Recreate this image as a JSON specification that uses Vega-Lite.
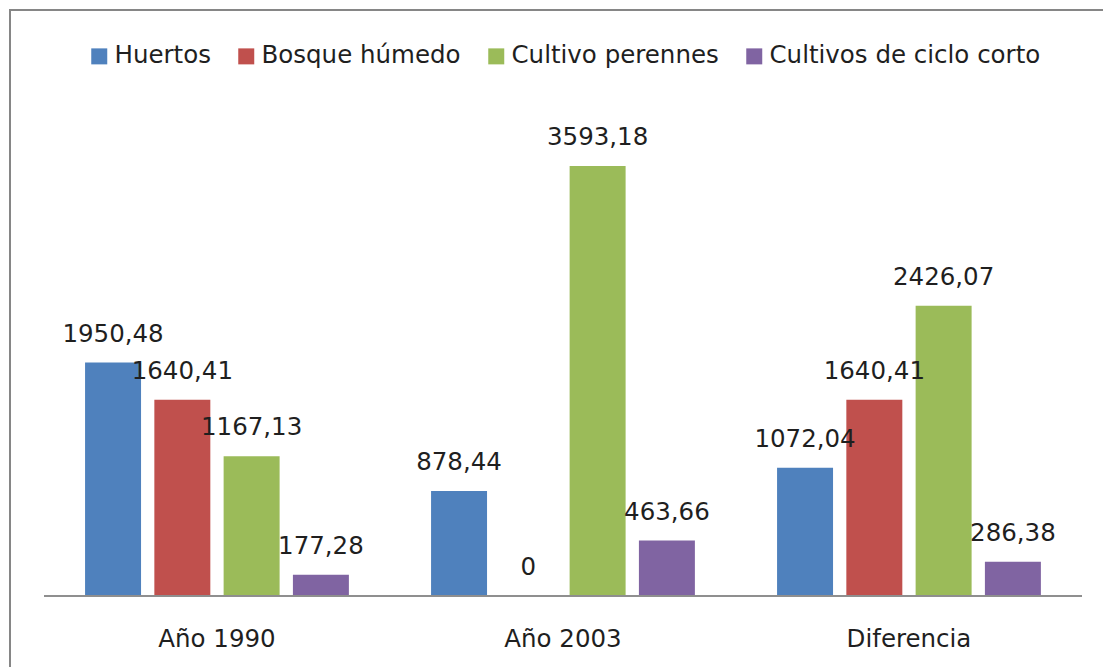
{
  "$schema": "https://vega.github.io/schema/vega-lite/v6.json",
  "width": 1100,
  "height": 680,
  "autosize": {"type": "none"},
  "padding": {"left": 10, "top": 10, "right": -7, "bottom": -23},
  "background": "white",
  "config": {
    "locale": {"number": {"decimal": ",", "thousands": ".", "grouping": [3], "currency": ["", ""]}},
    "view": {"stroke": "#868686", "strokeWidth": 2},
    "font": "DejaVu Sans"
  },
  "data": {
    "values": [
      {"periodo": "Año 1990", "cobertura": "Huertos", "valor": 1950.48},
      {"periodo": "Año 1990", "cobertura": "Bosque húmedo", "valor": 1640.41},
      {"periodo": "Año 1990", "cobertura": "Cultivo perennes", "valor": 1167.13},
      {"periodo": "Año 1990", "cobertura": "Cultivos  de ciclo corto", "valor": 177.28},
      {"periodo": "Año 2003", "cobertura": "Huertos", "valor": 878.44},
      {"periodo": "Año 2003", "cobertura": "Bosque húmedo", "valor": 0},
      {"periodo": "Año 2003", "cobertura": "Cultivo perennes", "valor": 3593.18},
      {"periodo": "Año 2003", "cobertura": "Cultivos  de ciclo corto", "valor": 463.66},
      {"periodo": "Diferencia", "cobertura": "Huertos", "valor": 1072.04},
      {"periodo": "Diferencia", "cobertura": "Bosque húmedo", "valor": 1640.41},
      {"periodo": "Diferencia", "cobertura": "Cultivo perennes", "valor": 2426.07},
      {"periodo": "Diferencia", "cobertura": "Cultivos  de ciclo corto", "valor": 286.38}
    ]
  },
  "layer": [
    {
      "mark": {"type": "bar"},
      "encoding": {
        "x": {
          "field": "periodo",
          "type": "nominal",
          "sort": ["Año 1990", "Año 2003", "Diferencia"],
          "scale": {"paddingInner": 0, "paddingOuter": 0.0896, "align": 0.548},
          "axis": {
            "title": null,
            "domain": false,
            "ticks": false,
            "tickSize": 0,
            "grid": false,
            "labelAngle": 0,
            "labelPadding": 50,
            "labelBaseline": "alphabetic",
            "labelFontSize": 24.5,
            "labelFont": "DejaVu Sans",
            "labelColor": "#1f1f1f",
            "offset": -94
          }
        },
        "xOffset": {
          "field": "cobertura",
          "type": "nominal",
          "sort": ["Huertos", "Bosque húmedo", "Cultivo perennes", "Cultivos  de ciclo corto"],
          "scale": {"paddingInner": 0.192, "paddingOuter": 0.593}
        },
        "y": {
          "field": "valor",
          "type": "quantitative",
          "scale": {"domain": [-785.5, 4896.8], "nice": false},
          "axis": null
        },
        "y2": {"datum": 0},
        "color": {
          "field": "cobertura",
          "type": "nominal",
          "sort": ["Huertos", "Bosque húmedo", "Cultivo perennes", "Cultivos  de ciclo corto"],
          "scale": {
            "domain": ["Huertos", "Bosque húmedo", "Cultivo perennes", "Cultivos  de ciclo corto"],
            "range": ["#4F81BD", "#C0504D", "#9BBB59", "#8064A2"]
          },
          "legend": {
            "title": null,
            "orient": "none",
            "legendX": 77,
            "legendY": 34,
            "direction": "horizontal",
            "columns": 4,
            "symbolType": "square",
            "symbolSize": 256,
            "symbolStrokeWidth": 0,
            "symbolOpacity": 1,
            "labelFontSize": 24.5,
            "labelFont": "DejaVu Sans",
            "labelColor": "#1f1f1f",
            "labelOffset": 3,
            "labelLimit": 500,
            "columnPadding": 23,
            "padding": 0
          }
        }
      }
    },
    {
      "mark": {"type": "bar", "fillOpacity": 0, "stroke": "#8E8E8E", "strokeWidth": 1.5},
      "encoding": {
        "x": {"field": "periodo", "type": "nominal", "sort": ["Año 1990", "Año 2003", "Diferencia"]},
        "y": {"datum": 0, "scale": {"domain": [-785.5, 4896.8], "nice": false}},
        "y2": {"datum": 0}
      }
    },
    {
      "mark": {"type": "text", "baseline": "alphabetic", "dy": -21, "fontSize": 24.5, "font": "DejaVu Sans", "color": "#1f1f1f"},
      "encoding": {
        "x": {"field": "periodo", "type": "nominal", "sort": ["Año 1990", "Año 2003", "Diferencia"]},
        "xOffset": {"field": "cobertura", "type": "nominal", "sort": ["Huertos", "Bosque húmedo", "Cultivo perennes", "Cultivos  de ciclo corto"]},
        "y": {"field": "valor", "type": "quantitative"},
        "text": {"field": "valor", "type": "quantitative", "format": "~f"}
      }
    }
  ]
}
